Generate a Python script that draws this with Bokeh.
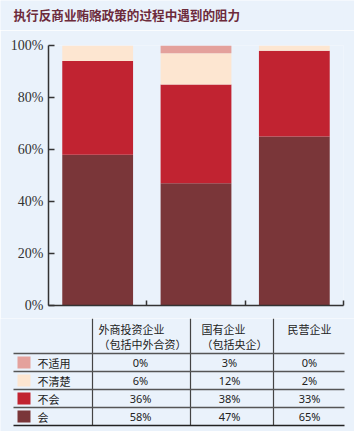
from bokeh.plotting import figure
from bokeh.layouts import column
from bokeh.models import Range1d, FixedTicker, PrintfTickFormatter, CustomJSTickFormatter, ColumnDataSource
from bokeh.core.properties import value
from bokeh.embed import file_html
from bokeh.resources import INLINE

# ---------------- data ----------------
title_text = "执行反商业贿赂政策的过程中遇到的阻力"
companies = ["外商投资企业", "国有企业", "民营企业"]
company_notes = ["（包括中外合资）", "（包括央企）", ""]
responses = ["不适用", "不清楚", "不会", "会"]          # table order, top to bottom
na_vals = [0, 3, 0]          # 不适用
unclear_vals = [6, 12, 2]    # 不清楚
wont_vals = [36, 38, 33]     # 不会
will_vals = [58, 47, 65]     # 会
y_ticks = [0, 20, 40, 60, 80, 100]

# ---------------- styles ----------------
BG = "#EAF2FB"
CJK = "Noto Sans CJK SC"
col_will = "#7A3639"
col_wont = "#C12331"
col_unclear = "#FDE6D1"
col_na = "#E4A19C"
W = 354

# ---------------- title figure ----------------
pt = figure(width=W, height=30, x_range=Range1d(0, W), y_range=Range1d(30, 0),
            output_backend="svg", toolbar_location=None,
            x_axis_location=None, y_axis_location=None, min_border=0)
pt.frame_align = False
pt.background_fill_color = BG
pt.border_fill_color = BG
pt.outline_line_color = None
pt.grid.visible = False
pt.text(x=[13], y=[14], text=[title_text], text_font=value(CJK), text_font_size="12.6px",
        text_font_style="bold", text_color="#6D2B3B", text_baseline="middle", text_align="left")

# ---------------- chart figure ----------------
xs = [i + 0.5 for i in range(len(companies))]
src = ColumnDataSource(dict(x=xs, will=will_vals, wont=wont_vals, unclear=unclear_vals, na=na_vals))

p = figure(width=W, height=288, x_range=Range1d(0, len(companies)), y_range=Range1d(0, 100),
           output_backend="svg", toolbar_location=None,
           min_border_left=48, min_border_right=11, min_border_top=15, min_border_bottom=13)
p.frame_align = False
p.background_fill_color = BG
p.border_fill_color = BG
p.outline_line_color = None
p.grid.visible = False

p.vbar_stack(["will", "wont", "unclear", "na"], x="x", width=0.72, source=src,
             color=[col_will, col_wont, col_unclear, col_na], line_color=None)

ya = p.yaxis[0]
ya.ticker = FixedTicker(ticks=y_ticks)
ya.formatter = PrintfTickFormatter(format="%d%%")
ya.major_tick_in = 6
ya.major_tick_out = 0
ya.minor_tick_line_color = None
ya.axis_line_color = "#333333"
ya.axis_line_width = 1.5
ya.major_tick_line_color = "#333333"
ya.major_tick_line_width = 1.5
ya.major_label_text_font = "Liberation Serif"
ya.major_label_text_font_size = "14px"
ya.major_label_text_color = "#333333"
ya.major_label_standoff = 5

xa = p.xaxis[0]
xa.ticker = FixedTicker(ticks=[1, 2, 3])
xa.formatter = CustomJSTickFormatter(code="return ''")
xa.major_label_text_font_size = "1px"
xa.major_label_standoff = 0
xa.major_tick_in = 5
xa.major_tick_out = 0
xa.minor_tick_line_color = None
xa.axis_line_color = "#333333"
xa.axis_line_width = 1.5
xa.major_tick_line_color = "#333333"
xa.major_tick_line_width = 1.5

# ---------------- table figure ----------------
TH = 113
tb = figure(width=W, height=TH, x_range=Range1d(0, W), y_range=Range1d(TH, 0),
            output_backend="svg", toolbar_location=None,
            x_axis_location=None, y_axis_location=None, min_border=0)
tb.frame_align = False
tb.background_fill_color = BG
tb.border_fill_color = BG
tb.outline_line_color = None
tb.grid.visible = False

col_lines = [92, 190, 273]
row_lines = [35, 53, 71, 89]
bottom_line = 107
left, right = 13, 344

tb.segment(x0=col_lines, y0=[0] * 3, x1=col_lines, y1=[bottom_line] * 3, line_color="#444444", line_width=1.2)
tb.segment(x0=[left] * 4, y0=row_lines, x1=[right] * 4, y1=row_lines, line_color="#555555", line_width=1.5)
tb.segment(x0=[left], y0=[bottom_line], x1=[right], y1=[bottom_line], line_color="#222222", line_width=1.5)

# headers
head_x = [98, 201, 287]
tb.text(x=head_x, y=[10] * 3, text=companies, text_font=value(CJK), text_font_size="11px",
        text_color="#222222", text_baseline="middle", text_align="left")
tb.text(x=head_x, y=[25] * 3, text=company_notes, text_font=value(CJK), text_font_size="11px",
        text_color="#222222", text_baseline="middle", text_align="left")

# rows
row_y = [44, 62, 80, 98]
row_colors = [col_na, col_unclear, col_wont, col_will]
row_values = [na_vals, unclear_vals, wont_vals, will_vals]
tb.rect(x=[23.5] * 4, y=row_y, width=13, height=12, color=row_colors, line_color=None)
tb.text(x=[37] * 4, y=row_y, text=responses, text_font=value(CJK), text_font_size="11px",
        text_color="#222222", text_baseline="middle", text_align="left")

val_x = [140, 229, 309]
vx, vy, vt = [], [], []
for ry, vals in zip(row_y, row_values):
    for cx, v in zip(val_x, vals):
        vx.append(cx)
        vy.append(ry)
        vt.append(f"{v}%")
tb.text(x=vx, y=vy, text=vt, text_font=value("Noto Sans"), text_font_size="11px",
        text_color="#222222", text_baseline="middle", text_align="center")

layout = column(pt, p, tb, spacing=0)
open("out.html", "w").write(file_html(layout, INLINE))
